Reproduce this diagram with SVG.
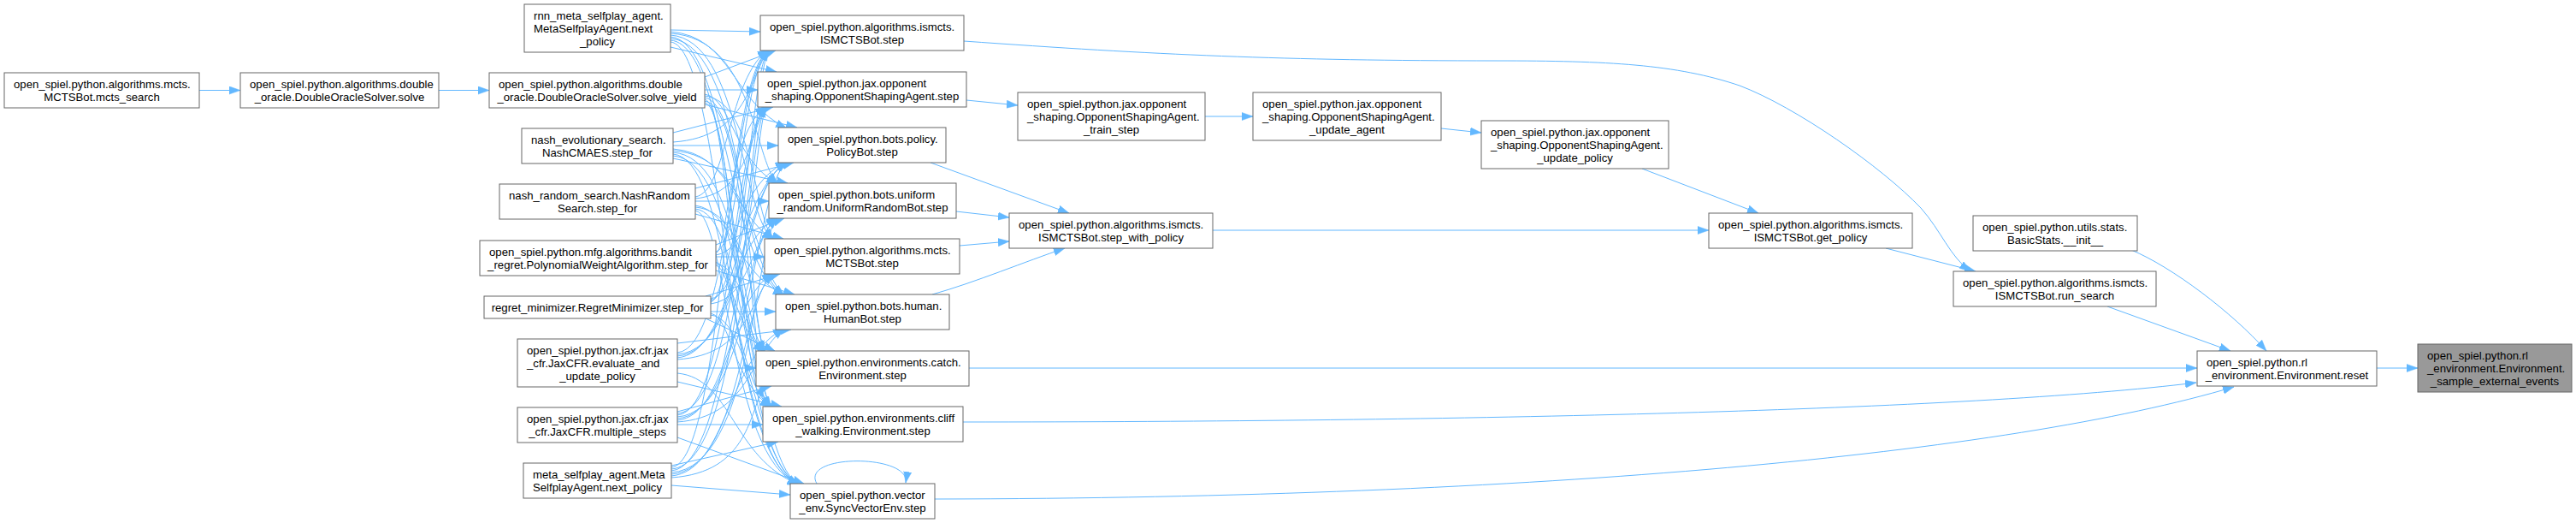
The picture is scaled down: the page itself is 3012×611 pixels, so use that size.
<svg xmlns="http://www.w3.org/2000/svg" width="3012" height="611" viewBox="0 0 3012 611">
<style>
.n rect{fill:#ffffff;stroke:#666666;stroke-width:1}
.hl rect{fill:#999999;stroke:#666666;stroke-width:1}
text{font-family:"Liberation Sans",Arial,Helvetica,sans-serif;font-size:13.2px;fill:#000000}
.c{text-anchor:middle}
#edges path{fill:none;stroke:#63b8ff;stroke-width:1;marker-end:url(#a)}
</style>
<defs>
<marker id="a" markerUnits="userSpaceOnUse" markerWidth="14" markerHeight="10" refX="13" refY="5" orient="auto"><path d="M0,0.4 L13,5 L0,9.6z" fill="#63b8ff" stroke="#63b8ff" stroke-width="0.5"/></marker>
</defs>
<rect width="3012" height="611" fill="#ffffff"/>
<g id="edges">
<path d="M233,105.5 L281,105.5"/>
<path d="M513,105.5 L572,105.5"/>
<path d="M784,35 L889,37"/>
<path d="M824,105 L886,105"/>
<path d="M787,170 L910,170"/>
<path d="M813,235 L899,235"/>
<path d="M837,300 L894,300"/>
<path d="M831,364 L907,364"/>
<path d="M792,430 L884,430"/>
<path d="M792,496 L892,496"/>
<path d="M785,567 L924,578"/>
<path d="M784,55 L908,84"/>
<path d="M824,122 L932,149"/>
<path d="M787,185 L921,214"/>
<path d="M813,250 L916,279"/>
<path d="M837,316 L929,344"/>
<path d="M825,372 L906,410"/>
<path d="M792,446 L914,475"/>
<path d="M792,511 L940,565"/>
<path d="M824,90 L907,59"/>
<path d="M787,155 L904,125"/>
<path d="M813,220 L928,190"/>
<path d="M837,286 L917,255"/>
<path d="M825,346 L912,320"/>
<path d="M792,401 L925,385"/>
<path d="M792,481 L902,451"/>
<path d="M785,544 L910,516"/>
<path d="M784,37 C856,43 856,119 920,150"/>
<path d="M784,39 C881,45 881,184 909,215"/>
<path d="M784,41 C866,47 866,249 904,280"/>
<path d="M784,43 C851,49 851,314 917,345"/>
<path d="M784,45 C876,51 876,380 894,411"/>
<path d="M784,47 C861,53 861,445 902,476"/>
<path d="M784,49 C846,55 846,535 934,566"/>
<path d="M824,110 C856,116 856,184 909,215"/>
<path d="M824,112 C881,118 881,249 904,280"/>
<path d="M824,114 C866,120 866,314 917,345"/>
<path d="M824,116 C851,122 851,380 894,411"/>
<path d="M824,118 C876,124 876,445 902,476"/>
<path d="M824,120 C861,126 861,535 934,566"/>
<path d="M787,166 C876,160 876,89 899,58"/>
<path d="M787,174 C856,180 856,249 904,280"/>
<path d="M787,176 C881,182 881,314 917,345"/>
<path d="M787,178 C866,184 866,380 894,411"/>
<path d="M787,180 C851,186 851,445 902,476"/>
<path d="M787,182 C876,188 876,535 934,566"/>
<path d="M813,230 C851,224 851,89 899,58"/>
<path d="M813,232 C876,226 876,155 896,124"/>
<path d="M813,240 C856,246 856,314 917,345"/>
<path d="M813,242 C881,248 881,380 894,411"/>
<path d="M813,244 C866,250 866,445 902,476"/>
<path d="M813,246 C851,252 851,535 934,566"/>
<path d="M837,294 C866,288 866,89 899,58"/>
<path d="M837,296 C851,290 851,155 896,124"/>
<path d="M837,298 C876,292 876,220 920,189"/>
<path d="M837,306 C856,312 856,380 894,411"/>
<path d="M837,308 C881,314 881,445 902,476"/>
<path d="M837,310 C866,316 866,535 934,566"/>
<path d="M831,349 C881,343 881,89 899,58"/>
<path d="M831,351 C866,345 866,155 896,124"/>
<path d="M831,353 C851,347 851,220 920,189"/>
<path d="M831,355 C876,349 876,285 909,254"/>
<path d="M831,366 C856,372 856,445 902,476"/>
<path d="M831,368 C881,374 881,535 934,566"/>
<path d="M792,412 C856,406 856,89 899,58"/>
<path d="M792,414 C881,408 881,155 896,124"/>
<path d="M792,416 C866,410 866,220 920,189"/>
<path d="M792,418 C851,412 851,285 909,254"/>
<path d="M792,420 C876,414 876,350 904,319"/>
<path d="M792,436 C856,442 856,535 934,566"/>
<path d="M792,483 C871,477 871,89 899,58"/>
<path d="M792,485 C856,479 856,155 896,124"/>
<path d="M792,487 C881,481 881,220 920,189"/>
<path d="M792,489 C866,483 866,285 909,254"/>
<path d="M792,491 C851,485 851,350 904,319"/>
<path d="M792,493 C876,487 876,415 917,384"/>
<path d="M785,546 C846,540 846,89 899,58"/>
<path d="M785,548 C871,542 871,155 896,124"/>
<path d="M785,550 C856,544 856,220 920,189"/>
<path d="M785,552 C881,546 881,285 909,254"/>
<path d="M785,554 C866,548 866,350 904,319"/>
<path d="M785,556 C851,550 851,415 917,384"/>
<path d="M785,558 C876,552 876,481 894,450"/>
<path d="M955,565 C935,530 1065,530 1059,564"/>
<path d="M1130,117 L1190,123"/>
<path d="M1409,136 L1465,136"/>
<path d="M1685,150 L1732,155"/>
<path d="M1920,197 L2056,249"/>
<path d="M1088,190 L1250,249"/>
<path d="M1118,247 L1180,254"/>
<path d="M1122,287 L1180,282"/>
<path d="M1090,344 C1140,330 1200,305 1245,290"/>
<path d="M1418,269 L1998,269"/>
<path d="M2205,290 L2310,317"/>
<path d="M1127,48 C1350,64 1500,71 1750,71 C1880,71 1960,75 2034,100 C2100,125 2200,195 2246,243 C2270,270 2280,300 2304,317"/>
<path d="M2492,292 C2540,312 2610,365 2650,410"/>
<path d="M2464,358 L2608,410"/>
<path d="M1133,430 L2569,430"/>
<path d="M1126,493 C1700,493 2300,480 2568,447"/>
<path d="M1093,583 C1800,582 2350,530 2612,452"/>
<path d="M2779,430 L2827,430"/>
</g>
<g id="n_mcts_search" class="n"><rect x="5" y="85" width="228" height="41"/><text x="16" y="102.7">open_spiel.python.algorithms.mcts.</text><text class="c" x="119" y="117.7">MCTSBot.mcts_search</text></g>
<g id="n_solve" class="n"><rect x="281" y="85" width="232" height="41"/><text x="292" y="102.7">open_spiel.python.algorithms.double</text><text class="c" x="397" y="117.7">_oracle.DoubleOracleSolver.solve</text></g>
<g id="n_rnn_meta" class="n"><rect x="613" y="5" width="171" height="56"/><text x="624" y="22.7">rnn_meta_selfplay_agent.</text><text x="624" y="37.7">MetaSelfplayAgent.next</text><text class="c" x="698.5" y="52.7">_policy</text></g>
<g id="n_solve_yield" class="n"><rect x="572" y="85" width="252" height="41"/><text x="583" y="102.7">open_spiel.python.algorithms.double</text><text class="c" x="698" y="117.7">_oracle.DoubleOracleSolver.solve_yield</text></g>
<g id="n_nash_evo" class="n"><rect x="610" y="150" width="177" height="41"/><text x="621" y="167.7">nash_evolutionary_search.</text><text class="c" x="698.5" y="182.7">NashCMAES.step_for</text></g>
<g id="n_nash_random" class="n"><rect x="584" y="215" width="229" height="41"/><text x="595" y="232.7">nash_random_search.NashRandom</text><text class="c" x="698.5" y="247.7">Search.step_for</text></g>
<g id="n_bandit" class="n"><rect x="561" y="281" width="276" height="41"/><text x="572" y="298.7">open_spiel.python.mfg.algorithms.bandit</text><text class="c" x="699" y="313.7">_regret.PolynomialWeightAlgorithm.step_for</text></g>
<g id="n_regret" class="n"><rect x="566" y="346" width="265" height="26"/><text class="c" x="698.5" y="363.7">regret_minimizer.RegretMinimizer.step_for</text></g>
<g id="n_eval" class="n"><rect x="605" y="396" width="187" height="56"/><text x="616" y="413.7">open_spiel.python.jax.cfr.jax</text><text x="616" y="428.7">_cfr.JaxCFR.evaluate_and</text><text class="c" x="698.5" y="443.7">_update_policy</text></g>
<g id="n_multiple" class="n"><rect x="605" y="476" width="187" height="41"/><text x="616" y="493.7">open_spiel.python.jax.cfr.jax</text><text class="c" x="698.5" y="508.7">_cfr.JaxCFR.multiple_steps</text></g>
<g id="n_meta" class="n"><rect x="612" y="541" width="173" height="41"/><text x="623" y="558.7">meta_selfplay_agent.Meta</text><text class="c" x="698.5" y="573.7">SelfplayAgent.next_policy</text></g>
<g id="n_ismcts_step" class="n"><rect x="889" y="18" width="238" height="41"/><text x="900" y="35.7">open_spiel.python.algorithms.ismcts.</text><text class="c" x="1008" y="50.7">ISMCTSBot.step</text></g>
<g id="n_osa_step" class="n"><rect x="886" y="84" width="244" height="41"/><text x="897" y="101.7">open_spiel.python.jax.opponent</text><text class="c" x="1008" y="116.7">_shaping.OpponentShapingAgent.step</text></g>
<g id="n_policy_step" class="n"><rect x="910" y="149" width="196" height="41"/><text x="921" y="166.7">open_spiel.python.bots.policy.</text><text class="c" x="1008" y="181.7">PolicyBot.step</text></g>
<g id="n_uniform_step" class="n"><rect x="899" y="214" width="219" height="41"/><text x="910" y="231.7">open_spiel.python.bots.uniform</text><text class="c" x="1008.5" y="246.7">_random.UniformRandomBot.step</text></g>
<g id="n_mcts_step" class="n"><rect x="894" y="279" width="228" height="41"/><text x="905" y="296.7">open_spiel.python.algorithms.mcts.</text><text class="c" x="1008" y="311.7">MCTSBot.step</text></g>
<g id="n_human_step" class="n"><rect x="907" y="344" width="203" height="41"/><text x="918" y="361.7">open_spiel.python.bots.human.</text><text class="c" x="1008.5" y="376.7">HumanBot.step</text></g>
<g id="n_catch_step" class="n"><rect x="884" y="410" width="249" height="41"/><text x="895" y="427.7">open_spiel.python.environments.catch.</text><text class="c" x="1008.5" y="442.7">Environment.step</text></g>
<g id="n_cliff_step" class="n"><rect x="892" y="475" width="234" height="41"/><text x="903" y="492.7">open_spiel.python.environments.cliff</text><text class="c" x="1009" y="507.7">_walking.Environment.step</text></g>
<g id="n_sync_step" class="n"><rect x="924" y="565" width="169" height="41"/><text x="935" y="582.7">open_spiel.python.vector</text><text class="c" x="1008.5" y="597.7">_env.SyncVectorEnv.step</text></g>
<g id="n_train_step" class="n"><rect x="1190" y="108" width="219" height="56"/><text x="1201" y="125.7">open_spiel.python.jax.opponent</text><text x="1201" y="140.7">_shaping.OpponentShapingAgent.</text><text class="c" x="1299.5" y="155.7">_train_step</text></g>
<g id="n_update_agent" class="n"><rect x="1465" y="108" width="220" height="56"/><text x="1476" y="125.7">open_spiel.python.jax.opponent</text><text x="1476" y="140.7">_shaping.OpponentShapingAgent.</text><text class="c" x="1575" y="155.7">_update_agent</text></g>
<g id="n_update_policy" class="n"><rect x="1732" y="141" width="219" height="56"/><text x="1743" y="158.7">open_spiel.python.jax.opponent</text><text x="1743" y="173.7">_shaping.OpponentShapingAgent.</text><text class="c" x="1841.5" y="188.7">_update_policy</text></g>
<g id="n_step_with_policy" class="n"><rect x="1180" y="249" width="238" height="41"/><text x="1191" y="266.7">open_spiel.python.algorithms.ismcts.</text><text class="c" x="1299" y="281.7">ISMCTSBot.step_with_policy</text></g>
<g id="n_get_policy" class="n"><rect x="1998" y="249" width="238" height="41"/><text x="2009" y="266.7">open_spiel.python.algorithms.ismcts.</text><text class="c" x="2117" y="281.7">ISMCTSBot.get_policy</text></g>
<g id="n_basicstats_init" class="n"><rect x="2307" y="252" width="192" height="41"/><text x="2318" y="269.7">open_spiel.python.utils.stats.</text><text class="c" x="2403" y="284.7">BasicStats.__init__</text></g>
<g id="n_run_search" class="n"><rect x="2284" y="317" width="237" height="41"/><text x="2295" y="334.7">open_spiel.python.algorithms.ismcts.</text><text class="c" x="2402.5" y="349.7">ISMCTSBot.run_search</text></g>
<g id="n_reset" class="n"><rect x="2569" y="410" width="210" height="41"/><text x="2580" y="427.7">open_spiel.python.rl</text><text class="c" x="2674" y="442.7">_environment.Environment.reset</text></g>
<g id="n_sample_external_events" class="hl"><rect x="2827" y="402" width="180" height="56"/><text x="2838" y="419.7">open_spiel.python.rl</text><text x="2838" y="434.7">_environment.Environment.</text><text class="c" x="2917" y="449.7">_sample_external_events</text></g>
</svg>
